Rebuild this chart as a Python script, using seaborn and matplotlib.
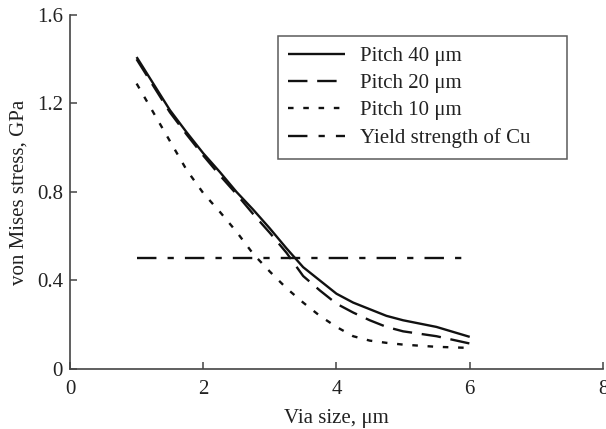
import matplotlib
matplotlib.use("Agg")
import matplotlib.pyplot as plt
import seaborn as sns
import pandas as pd

# Via size (um) and von Mises stress (GPa) for each pitch
via_size = [1.0, 1.25, 1.5, 1.75, 2.0, 2.25, 2.5, 2.75, 3.0, 3.25, 3.5,
            3.75, 4.0, 4.25, 4.5, 4.75, 5.0, 5.5, 6.0]
pitch_40 = [1.41, 1.29, 1.17, 1.07, 0.975, 0.89, 0.80, 0.72, 0.635, 0.545,
            0.46, 0.40, 0.34, 0.30, 0.27, 0.24, 0.22, 0.19, 0.145]
pitch_20 = [1.40, 1.28, 1.16, 1.06, 0.965, 0.875, 0.79, 0.70, 0.615, 0.525,
            0.42, 0.355, 0.295, 0.255, 0.22, 0.19, 0.17, 0.148, 0.115]
pitch_10 = [1.29, 1.16, 1.03, 0.90, 0.795, 0.71, 0.62, 0.52, 0.44, 0.365,
            0.30, 0.24, 0.19, 0.148, 0.128, 0.118, 0.11, 0.10, 0.095]
yield_x = [1.0, 6.0]
yield_cu = [0.5, 0.5]

labels = ["Pitch 40 \u03bcm", "Pitch 20 \u03bcm", "Pitch 10 \u03bcm",
          "Yield strength of Cu"]
x_ticks = [0, 2, 4, 6, 8]
y_ticks = [0, 0.4, 0.8, 1.2, 1.6]
y_tick_labels = ["0", "0.4", "0.8", "1.2", "1.6"]

sns.set_theme(style="ticks")
plt.rcParams["font.family"] = ["Liberation Serif", "DejaVu Serif"]
plt.rcParams["lines.scale_dashes"] = False

FS = 15

fig = plt.figure(figsize=(6.06, 4.29), dpi=100)
ax = fig.add_axes([0.1155, 0.140, 0.8795, 0.825])

styles = [
    (0, ()),
    (0, (14, 7)),
    (0, (4, 7)),
    (0, (14, 8, 4.5, 8)),
]
series = [
    (via_size, pitch_40),
    (via_size, pitch_20),
    (via_size, pitch_10),
    (yield_x, yield_cu),
]

for (xs, ys), ls, lab in zip(series, styles, labels):
    df = pd.DataFrame({"x": xs, "y": ys})
    sns.lineplot(data=df, x="x", y="y", ax=ax, color="#111111",
                 linewidth=1.7, linestyle=ls, label=lab, sort=False)

ax.set_xlim(0, 8)
ax.set_ylim(0, 1.6)
ax.set_xticks(x_ticks)
ax.set_xticklabels([str(t) for t in x_ticks])
ax.set_yticks(y_ticks)
ax.set_yticklabels(y_tick_labels)

ax.set_xlabel("Via size, \u03bcm", fontsize=FS, color="#222222", labelpad=7)
ax.set_ylabel("von Mises stress, GPa", fontsize=FS, color="#222222",
              labelpad=6)

for side in ["top", "right"]:
    ax.spines[side].set_visible(False)
for side in ["left", "bottom"]:
    ax.spines[side].set_color("#444444")
    ax.spines[side].set_linewidth(1.2)

ax.tick_params(direction="in", length=5, width=1.1, color="#444444",
               labelsize=FS, labelcolor="#222222")
ax.tick_params(axis="x", pad=8)
ax.tick_params(axis="y", pad=5)

leg = ax.legend(loc="upper left", bbox_to_anchor=(0.390, 0.585, 0.542, 0.356),
                mode="expand", borderaxespad=0, frameon=True, fancybox=False,
                fontsize=FS, handlelength=2.7, handletextpad=0.72,
                labelspacing=0.37, borderpad=0.5)
leg.get_frame().set_edgecolor("#333333")
leg.get_frame().set_linewidth(1.1)
for text in leg.get_texts():
    text.set_color("#222222")

fig.savefig("out.png", dpi=100)
